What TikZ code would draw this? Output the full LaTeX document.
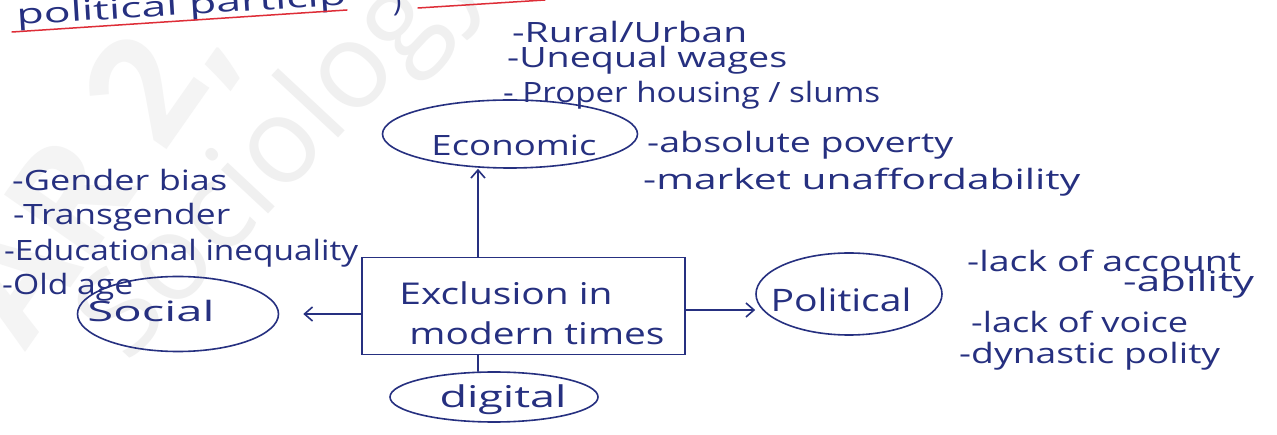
\documentclass[tikz,border=0pt]{standalone}
\usepackage{fontspec}
\usepackage{graphicx}
\setmainfont{Open Sans}
\usetikzlibrary{shapes.geometric,arrows.meta}
\definecolor{ink}{RGB}{38,48,128}
\definecolor{redink}{RGB}{222,45,55}
\definecolor{wm}{RGB}{244,244,244}
\definecolor{wmline}{RGB}{240,240,240}
% stretch a handwritten line horizontally to a given width
\newcommand\hw[2]{\resizebox{#1}{\height}{#2}}
\begin{document}
\begin{tikzpicture}[x=1pt,y=-1pt,
  hand/.style={text=ink, font=\fontsize{28}{30}\selectfont, inner sep=0pt},
  lst/.style={hand, anchor=west},
  oval/.style={draw=ink, line width=1.6pt, ellipse, inner sep=0pt},
  link/.style={draw=ink, line width=1.6pt, line cap=round},
  arr/.style={link, -{Straight Barb[length=8pt,width=14pt,line width=1.6pt]}}]
\useasboundingbox (0,0) rectangle (1277,435);
\fill[white] (0,0) rectangle (1277,435);

% faint watermark
\node[text=wm, font=\bfseries\fontsize{150}{150}\selectfont, rotate=55] (wmA) at (95,175) {AR 2,};
\node[text=wmline, font=\fontsize{120}{120}\selectfont, rotate=47] (wmB) at (285,150) {Sociology};

% heading line at the top, rising slightly, with its red underline
\node[hand, anchor=base west, rotate=3.5] (head) at (17,25) {\hw{330pt}{political particip}};
\node[hand, anchor=base west] (headp) at (393,12) {)};
\draw[redink, line width=1.5pt, line cap=round] (12,32) -- (347,10);
\draw[redink, line width=1.5pt, line cap=round] (418,8) -- (545,0);

% central box
\node[draw=ink, line width=1.6pt, minimum width=323pt, minimum height=97pt, inner sep=0pt] (ex) at (523.5,306) {};
\node[hand, font=\fontsize{30}{32}\selectfont] (ex1) at (506,293) {\hw{213pt}{Exclusion in}};
\node[hand, font=\fontsize{30}{32}\selectfont] (ex2) at (537,333) {\hw{255pt}{modern times}};

% category ovals
\node[oval, minimum width=255pt, minimum height=68pt] (eco) at (510,134) {};
\node[hand] (ecot) at (514,145) {\hw{165pt}{Economic}};
\node[oval, minimum width=201pt, minimum height=75pt] (soc) at (178,314) {};
\node[hand] (soct) at (151,311) {\hw{127pt}{Social}};
\node[oval, minimum width=186pt, minimum height=82pt] (pol) at (849,294) {};
\node[hand, font=\fontsize{31}{33}\selectfont] (polt) at (841,300) {\hw{141pt}{Political}};
\node[oval, minimum width=208pt, minimum height=50pt] (dig) at (494,397) {};
\node[hand, font=\fontsize{30}{32}\selectfont] (digt) at (503,400) {\hw{127pt}{digital}};

% connectors
\coordinate (etop) at ([xshift=-45.5pt]ex.north);
\draw[arr] (etop) -- (etop |- eco.south);
\draw[arr] (ex.west |- soc.east) -- ([xshift=24pt]soc.east);
\draw[arr] ([yshift=-4pt]ex.east) -- ([yshift=-4pt]ex.east -| pol.west);
\draw[link] (etop |- ex.south) -- (etop |- dig.north);

% economic points
\node[lst] (e1) at (512,32) {\hw{235pt}{-Rural/Urban}};
\node[lst] (e2) at (507,60) {\hw{280pt}{-Unequal wages}};
\node[lst] (e3) at (503,95) {\hw{377pt}{- Proper housing / slums}};
\node[lst] (e4) at (647,145) {\hw{306pt}{-absolute poverty}};
\node[lst] (e5) at (643,182) {\hw{437pt}{-market unaffordability}};

% social points
\node[lst] (s1) at (12,180) {\hw{215pt}{-Gender bias}};
\node[lst] (s2) at (13,217) {\hw{217pt}{-Transgender}};
\node[lst] (s3) at (4,253) {\hw{354pt}{-Educational inequality}};
\node[lst] (s4) at (2,287) {\hw{131pt}{-Old age}};

% political points
\node[lst] (p1) at (967,261) {\hw{274pt}{-lack of account}};
\node[lst] (p2) at (1123,284) {\hw{131pt}{-ability}};
\node[lst] (p3) at (971,322) {\hw{217pt}{-lack of voice}};
\node[lst] (p4) at (959,356) {\hw{261pt}{-dynastic polity}};
\end{tikzpicture}
\end{document}
